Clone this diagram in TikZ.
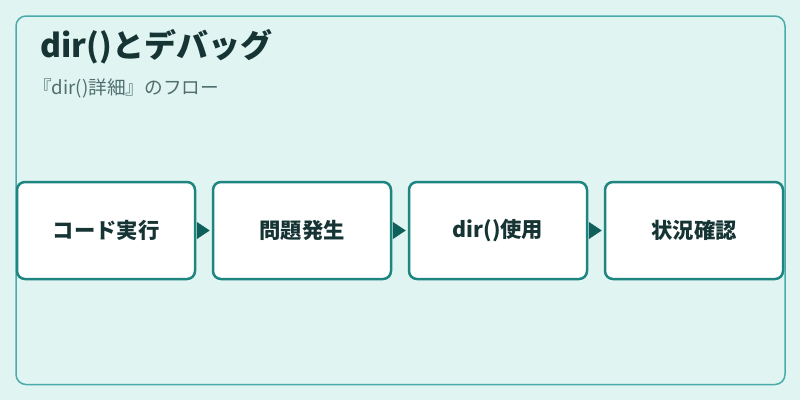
\documentclass[tikz,border=0pt]{standalone}
\usepackage{fontspec}
\setmainfont{Noto Sans CJK JP}
\usetikzlibrary{arrows.meta}
\definecolor{bgc}{HTML}{E0F4F2}
\definecolor{framec}{HTML}{4AACAA}
\definecolor{boxc}{HTML}{1E8580}
\definecolor{arrc}{HTML}{0F5F5A}
\definecolor{txtc}{HTML}{163434}
\definecolor{subc}{HTML}{4F6F6F}
\tikzset{
  stepbox/.style={draw=boxc, line width=2.5*0.75pt, fill=white, rounded corners=8*0.75pt,
    minimum width=178*0.75pt, minimum height=97*0.75pt, inner sep=0pt,
    font=\fontsize{16pt}{19pt}\selectfont\bfseries, text=txtc},
  arr/.style={arrc, line width=0.5pt, -{Triangle[length=13*0.75pt, width=17*0.75pt]},
    shorten <=2*0.75pt, shorten >=2*0.75pt}
}
\begin{document}
\begin{tikzpicture}[x=0.75pt,y=-0.75pt]
\useasboundingbox (0,0) rectangle (800,400);
\fill[bgc] (0,0) rectangle (800,400);
\draw[framec, line width=1.5*0.75pt, rounded corners=10*0.75pt] (16,16) rectangle (785,384.5);
\node[anchor=west, inner sep=0pt, text=txtc, font=\fontsize{24pt}{28pt}\selectfont\bfseries] (title) at (40,47) {dir()とデバッグ};
\node[anchor=west, inner sep=0pt, text=subc, font=\fontsize{14pt}{17pt}\selectfont] (sub) at (33,88) {『dir()詳細』のフロー};
\node[stepbox] (b1) at (106,230.5) {コード実行};
\node[stepbox] (b2) at (302,230.5) {問題発生};
\node[stepbox] (b3) at (498,230.5) {dir()使用};
\node[stepbox] (b4) at (694,230.5) {状況確認};
\draw[arr] (b1) -- (b2);
\draw[arr] (b2) -- (b3);
\draw[arr] (b3) -- (b4);
\end{tikzpicture}
\end{document}
